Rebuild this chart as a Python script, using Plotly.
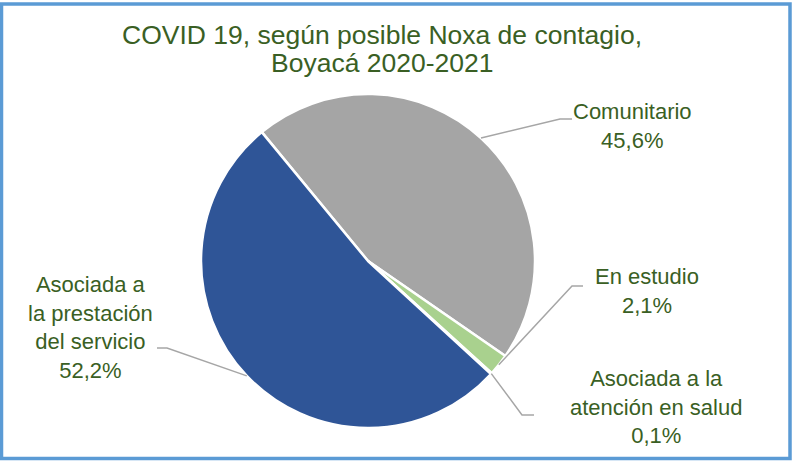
import numpy as np
import plotly.graph_objects as go

# -----------------------------
# DATA
# -----------------------------
labels = ["Comunitario", "En estudio", "Asociada a la atención en salud",
          "Asociada a la prestación del servicio"]
label_text = ["Comunitario", "En estudio", "Asociada a la<br>atención en salud",
              "Asociada a<br>la prestación<br>del servicio"]
values = [45.6, 2.1, 0.1, 52.2]
colors = ["#A5A5A5", "#A9D18E", "#ED7D31", "#2F5597"]

W, H = 794, 462
GREEN = "#3A5F24"
FONT = "Arial, Liberation Sans, sans-serif"

# pie geometry (pixels)
cx, cy, r = 368, 261, 167
rotation = -39.5

# label placement: text centre, elbow and end of the leader line (pixels)
label_pos = [(632, 126), (647, 291), (656, 407), (90, 327)]
elbows = [((560, 119), (572, 119)),
          ((572, 286), (583, 286)),
          ((522, 415), (534, 415)),
          ((167, 348), (157, 348))]


def px(x, y):
    return x / W, 1 - y / H


fig = go.Figure(go.Pie(
    labels=labels,
    values=values,
    sort=False,
    direction="clockwise",
    rotation=rotation,
    marker=dict(colors=colors, line=dict(color="white", width=2.5)),
    textinfo="none",
    hoverinfo="label+percent",
    domain=dict(x=[(cx - r) / W, (cx + r) / W],
                y=[1 - (cy + r) / H, 1 - (cy - r) / H]),
    showlegend=False,
))

# leader lines from the slice mid angles
total = sum(values)
start = rotation
for v, (e1, e2), txt, (lx, ly) in zip(values, elbows, label_text, label_pos):
    mid = np.radians(start + 360 * v / total / 2)
    start += 360 * v / total
    sx, sy = cx + r * np.sin(mid), cy - r * np.cos(mid)
    p0, p1, p2 = px(sx, sy), px(*e1), px(*e2)
    fig.add_shape(type="path", xref="paper", yref="paper",
                  path=f"M {p0[0]},{p0[1]} L {p1[0]},{p1[1]} L {p2[0]},{p2[1]}",
                  line=dict(color="#A6A6A6", width=1.5))
    pct = f"{v:.1f}%".replace(".", ",")
    ax, ay = px(lx, ly)
    fig.add_annotation(x=ax, y=ay, xref="paper", yref="paper",
                       text=f"{txt}<br>{pct}", showarrow=False,
                       xanchor="center", yanchor="middle",
                       font=dict(family=FONT, size=22, color=GREEN))

# title
for line, ty in [("COVID 19, según posible Noxa de contagio,", 35),
                 ("Boyacá 2020-2021", 63)]:
    tx, tyy = px(382, ty)
    fig.add_annotation(x=tx, y=tyy, xref="paper", yref="paper", text=line,
                       showarrow=False, xanchor="center", yanchor="middle",
                       font=dict(family=FONT, size=26.5, color=GREEN))

# chart border
fig.add_shape(type="rect", xref="paper", yref="paper",
              x0=1.5 / W, x1=1 - 4 / W, y0=3.5 / H, y1=1 - 4 / H,
              line=dict(color="#5B9BD5", width=3.5))

fig.update_layout(
    width=W, height=H,
    margin=dict(l=0, r=0, t=0, b=0),
    paper_bgcolor="white",
    plot_bgcolor="white",
)

fig.write_html("out.html", config={"displayModeBar": False},
               post_script="document.body.style.margin='0';")
